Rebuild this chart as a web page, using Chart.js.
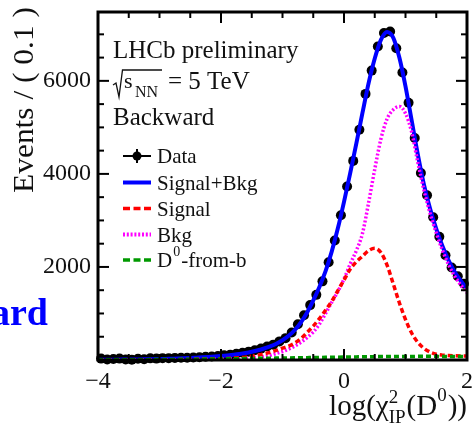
<!DOCTYPE html>
<html>
<head>
<meta charset="utf-8">
<script src="https://cdn.jsdelivr.net/npm/chart.js@4.4.0/dist/chart.umd.min.js"></script>
<style>
  html, body { margin: 0; padding: 0; background: #fff; }
</style>
</head>
<body>
<canvas id="ipchi2" width="472" height="427"></canvas>
<script>
// bin centres of the log(chi2_IP) histogram, width 0.1
const binCenters = [-3.95,-3.85,-3.75,-3.65,-3.55,-3.45,-3.35,-3.25,-3.15,-3.05,
  -2.95,-2.85,-2.75,-2.65,-2.55,-2.45,-2.35,-2.25,-2.15,-2.05,
  -1.95,-1.85,-1.75,-1.65,-1.55,-1.45,-1.35,-1.25,-1.15,-1.05,
  -0.95,-0.85,-0.75,-0.65,-0.55,-0.45,-0.35,-0.25,-0.15,-0.05,
  0.05,0.15,0.25,0.35,0.45,0.55,0.65,0.75,0.85,0.95,
  1.05,1.15,1.25,1.35,1.45,1.55,1.65,1.75,1.85,1.95];

const dataCounts = [30,10,20,30,10,5,25,15,35,30,
  40,40,45,50,50,55,60,70,75,85,
  100,115,135,155,180,210,245,290,330,400,
  470,590,770,960,1180,1400,1690,2100,2570,3110,
  3730,4280,4950,5720,6220,6740,7030,7060,6700,6180,
  5530,4770,4020,3540,3070,2650,2250,1990,1800,1640];

// fit curves, read at x = -4.0, -3.9, ... 2.0
const fitX = [-4.0,-3.9,-3.8,-3.7,-3.6,-3.5,-3.4,-3.3,-3.2,-3.1,
  -3.0,-2.9,-2.8,-2.7,-2.6,-2.5,-2.4,-2.3,-2.2,-2.1,
  -2.0,-1.9,-1.8,-1.7,-1.6,-1.5,-1.4,-1.3,-1.2,-1.1,
  -1.0,-0.9,-0.8,-0.7,-0.6,-0.5,-0.4,-0.3,-0.2,-0.1,
  0.0,0.1,0.2,0.3,0.4,0.5,0.6,0.7,0.8,0.9,
  1.0,1.1,1.2,1.3,1.4,1.5,1.6,1.7,1.8,1.9,2.0];

const totalFit = [5,6,7,8,9,10,11,13,15,17,
  20,24,28,32,37,43,50,57,65,75,
  86,99,114,131,152,178,209,247,293,350,
  425,520,645,810,1020,1280,1570,1910,2330,2830,
  3400,4010,4650,5310,5950,6480,6880,7050,6930,6500,
  5880,5150,4420,3770,3250,2820,2450,2140,1890,1700,1530];

const signalFit = [0,0,1,1,1,2,2,3,3,4,
  5,6,7,8,10,12,14,16,19,22,
  25,31,40,50,62,82,105,132,165,205,
  255,300,365,460,590,730,890,1070,1260,1490,
  1720,1950,2110,2230,2350,2400,2310,2040,1640,1230,
  870,580,380,250,170,125,105,95,90,86,84];

const bkgFit = [1,1,1,1,2,2,2,3,3,3,
  4,4,5,6,7,8,9,10,12,14,
  17,20,24,29,36,45,58,74,100,140,
  180,235,300,380,480,600,770,1000,1240,1470,
  1740,2060,2350,2720,3380,4100,4750,5180,5380,5450,
  5300,4900,4250,3650,3150,2730,2360,2050,1800,1610,1450];

const fromBFit = [4,4,5,5,6,6,7,8,8,9,
  10,11,12,13,14,15,17,18,20,21,
  23,25,27,29,31,33,35,37,39,41,
  43,45,47,49,51,53,55,57,59,61,
  63,65,67,69,70,72,73,74,75,76,
  77,77,78,78,78,78,77,76,75,74,72];

const xTickValues = [-4, -2, 0, 2];
const yTickValues = [2000, 4000, 6000];

const serif = '"Liberation Serif", "Times New Roman", serif';
const pts = (xs, ys) => xs.map((v, i) => ({x: v, y: ys[i]}));

function seg(ctx, x1, y1, x2, y2) {
  ctx.beginPath();
  ctx.moveTo(x1, y1);
  ctx.lineTo(x2, y2);
  ctx.stroke();
}

const legendItems = [
  {label: 'Data', color: '#000', dash: null, data: true},
  {label: 'Signal+Bkg', color: '#0000ff', dash: [], width: 4},
  {label: 'Signal', color: '#ff0000', dash: [7, 3.5], width: 3.5},
  {label: 'Bkg', color: '#ff00ff', dash: [2, 1.8], width: 4},
  {label: 'D0-from-b', color: '#009900', dash: [7, 3.5], width: 3.5}
];

const decor = {
  id: 'decor',
  afterDraw(chart) {
    const {ctx, chartArea: a, scales: {x, y}} = chart;
    ctx.save();

    // frame and inner ticks on all four sides
    ctx.strokeStyle = '#000';
    ctx.lineWidth = 3;
    ctx.strokeRect(a.left, a.top, a.right - a.left, a.bottom - a.top);
    ctx.lineWidth = 2;
    for (let v = -4; v <= 2.001; v += 0.5) {
      const px = x.getPixelForValue(v);
      const len = Math.abs(v % 2) < 0.01 ? 11 : 6;
      seg(ctx, px, a.bottom, px, a.bottom - len);
      seg(ctx, px, a.top, px, a.top + len);
    }
    for (let v = 0; v <= 7480; v += 500) {
      const py = y.getPixelForValue(v);
      const len = v % 2000 === 0 ? 11 : 6;
      seg(ctx, a.left, py, a.left + len, py);
      seg(ctx, a.right, py, a.right - len, py);
    }

    ctx.fillStyle = '#111';
    ctx.textBaseline = 'alphabetic';
    ctx.textAlign = 'left';

    // header
    ctx.font = '25px ' + serif;
    ctx.fillText('LHCb preliminary', 113, 58);
    ctx.fillText('Backward', 113, 125);
    // sqrt(s_NN) = 5 TeV
    ctx.lineWidth = 1.3;
    ctx.strokeStyle = '#111';
    ctx.beginPath();
    ctx.moveTo(113, 85); ctx.lineTo(116, 83); ctx.lineTo(119, 97);
    ctx.lineTo(122.5, 70); ctx.lineTo(162, 70);
    ctx.stroke();
    ctx.font = '22px ' + serif;
    ctx.fillText('s', 124, 88);
    ctx.font = '16px ' + serif;
    ctx.fillText('NN', 135, 97);
    ctx.font = '25px ' + serif;
    ctx.fillText('= 5 TeV', 168, 89);

    // legend
    const lx1 = 123, lx2 = 151, rowY = [156, 182.5, 208.5, 234.5, 260];
    legendItems.forEach((it, i) => {
      const cy = rowY[i];
      ctx.save();
      if (it.data) {
        ctx.strokeStyle = '#000';
        ctx.lineWidth = 2;
        seg(ctx, lx1, cy, lx2, cy);
        seg(ctx, (lx1 + lx2) / 2, cy - 7, (lx1 + lx2) / 2, cy + 7);
        ctx.fillStyle = '#000';
        ctx.beginPath();
        ctx.arc((lx1 + lx2) / 2, cy, 4.5, 0, Math.PI * 2);
        ctx.fill();
      } else {
        ctx.strokeStyle = it.color;
        ctx.lineWidth = it.width;
        ctx.setLineDash(it.dash);
        seg(ctx, lx1, cy, lx2, cy);
      }
      ctx.restore();
      ctx.font = '21px ' + serif;
      ctx.fillStyle = '#111';
      if (it.label === 'D0-from-b') {
        ctx.fillText('D', 157, cy + 7);
        const wD = ctx.measureText('D').width;
        ctx.font = '14px ' + serif;
        ctx.fillText('0', 157 + wD + 1, cy - 4);
        const w0 = ctx.measureText('0').width;
        ctx.font = '21px ' + serif;
        ctx.fillText('-from-b', 157 + wD + w0 + 2, cy + 7);
      } else {
        ctx.fillText(it.label, 157, cy + 7);
      }
    });

    // y title, aligned to the top like ROOT
    ctx.save();
    ctx.translate(33, 193);
    ctx.rotate(-Math.PI / 2);
    ctx.font = '29px ' + serif;
    const yTitle = 'Events / ( 0.1 )';
    const wy = ctx.measureText(yTitle).width;
    ctx.scale(186 / wy, 1);
    ctx.fillText(yTitle, 0, 0);
    ctx.restore();

    // x title log(chi2_IP(D0)), right aligned
    const big = '29px ' + serif, small = '19px ' + serif, base = 415;
    const parts = [
      {t: 'log(', f: big, dy: 0},
      {t: '\u03c7', f: big, dy: 0},
      {t: '2', f: small, dy: -12, sub: 'IP'},
      {t: '(D', f: big, dy: 0},
      {t: '0', f: small, dy: -14},
      {t: '))', f: big, dy: 0}
    ];
    const widthOf = p => {
      ctx.font = p.f;
      let w = ctx.measureText(p.t).width;
      if (p.sub) w = Math.max(w, ctx.measureText(p.sub).width);
      return w + (p.f === small ? 1 : 0);
    };
    let cx = 467 - parts.reduce((s, p) => s + widthOf(p), 0);
    parts.forEach(p => {
      const w = widthOf(p);
      ctx.font = p.f;
      ctx.fillText(p.t, cx, base + p.dy);
      if (p.sub) ctx.fillText(p.sub, cx, base + 8);
      cx += w;
    });

    // cut-off slide heading at the left edge
    ctx.fillStyle = '#0000ff';
    ctx.font = 'bold 38px ' + serif;
    ctx.fillText('ard', -9, 325);

    ctx.restore();
  }
};

const tickFont = {family: serif, size: 24};

new Chart(document.getElementById('ipchi2'), {
  type: 'scatter',
  data: {
    datasets: [
      {label: 'Data', data: pts(binCenters, dataCounts), backgroundColor: '#000',
       borderWidth: 0, pointRadius: 5, showLine: false, order: 5, clip: false},
      {label: 'Signal+Bkg', data: pts(fitX, totalFit), borderColor: '#0000ff', borderWidth: 4,
       pointRadius: 0, showLine: true, cubicInterpolationMode: 'monotone', order: 4},
      {label: 'Bkg', data: pts(fitX, bkgFit), borderColor: '#ff00ff', borderWidth: 3.5,
       borderDash: [2, 2], pointRadius: 0, showLine: true, cubicInterpolationMode: 'monotone', order: 3},
      {label: 'Signal', data: pts(fitX, signalFit), borderColor: '#ff0000', borderWidth: 3.5,
       borderDash: [5, 3], pointRadius: 0, showLine: true, cubicInterpolationMode: 'monotone', order: 2},
      {label: 'D0-from-b', data: pts(fitX, fromBFit), borderColor: '#009900', borderWidth: 3.5,
       borderDash: [5, 3], pointRadius: 0, showLine: true, cubicInterpolationMode: 'monotone', order: 1}
    ]
  },
  options: {
    responsive: false,
    animation: false,
    layout: {padding: {top: 12, right: 4, left: 0, bottom: 0}},
    plugins: {legend: {display: false}, tooltip: {enabled: false}},
    scales: {
      x: {
        type: 'linear', min: -4, max: 2,
        grid: {display: false, drawTicks: false},
        border: {display: false},
        afterBuildTicks: s => { s.ticks = xTickValues.map(v => ({value: v})); },
        afterFit: s => { s.height = 67; s.paddingLeft = 0; s.paddingRight = 0; },
        ticks: {
          font: tickFont, color: '#111', padding: 7, maxRotation: 0, autoSkip: false,
          callback: v => v < 0 ? '\u2212' + Math.abs(v) : String(v)
        }
      },
      y: {
        min: 0, max: 7480,
        grid: {display: false, drawTicks: false},
        border: {display: false},
        afterBuildTicks: s => { s.ticks = yTickValues.map(v => ({value: v})); },
        afterFit: s => { s.width = 98; s.paddingTop = 0; s.paddingBottom = 0; },
        ticks: {font: tickFont, color: '#111', padding: 7, autoSkip: false, callback: v => String(v)}
      }
    }
  },
  plugins: [decor]
});
</script>
</body>
</html>
